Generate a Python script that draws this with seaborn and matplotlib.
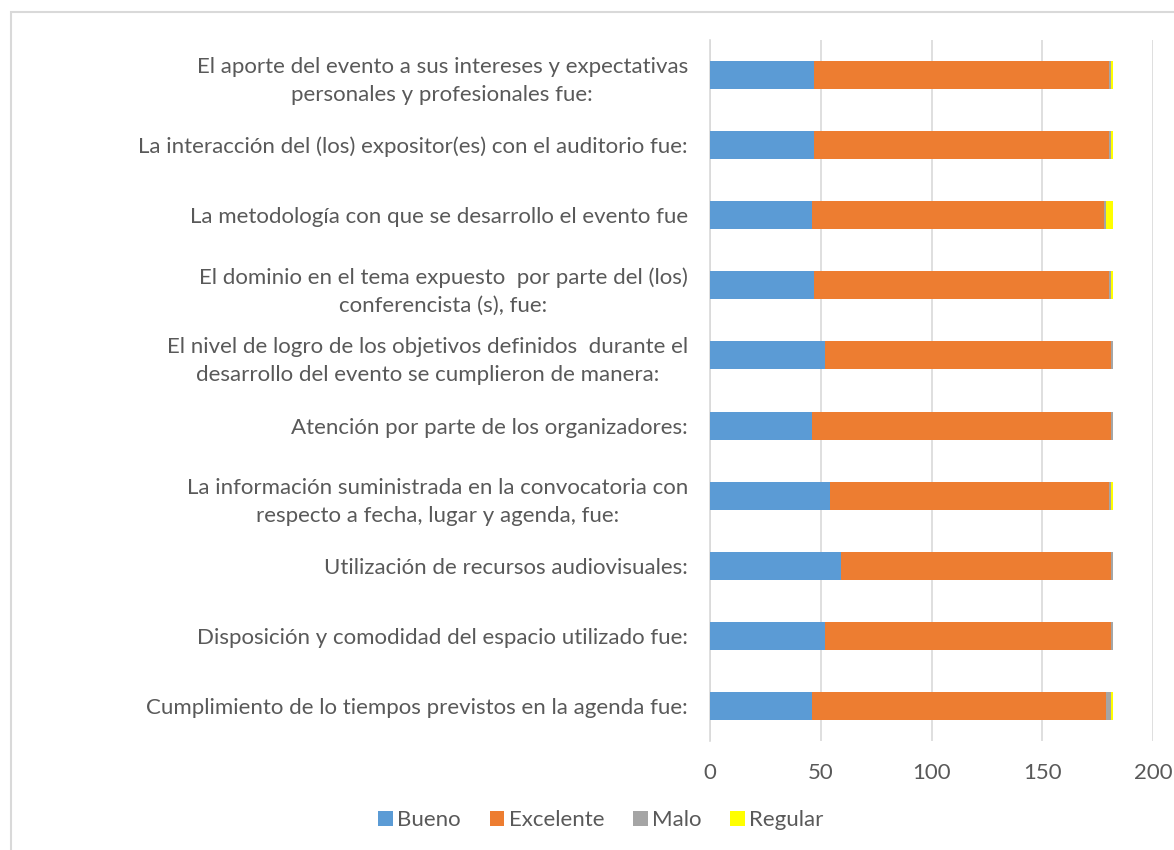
import numpy as np
import pandas as pd
import matplotlib
matplotlib.use('Agg')
import matplotlib.pyplot as plt
from matplotlib.patches import Rectangle, Patch
import seaborn as sns

preguntas = [
    'El aporte del evento a sus intereses y expectativas\npersonales y profesionales fue:',
    'La interacción del (los) expositor(es) con el auditorio fue:',
    'La metodología con que se desarrollo el evento fue',
    'El dominio en el tema expuesto  por parte del (los)\nconferencista (s), fue:',
    'El nivel de logro de los objetivos definidos  durante el\ndesarrollo del evento se cumplieron de manera:',
    'Atención por parte de los organizadores:',
    'La información suministrada en la convocatoria con\nrespecto a fecha, lugar y agenda, fue:',
    'Utilización de recursos audiovisuales:',
    'Disposición y comodidad del espacio utilizado fue:',
    'Cumplimiento de lo tiempos previstos en la agenda fue:',
]
bueno = [47, 47, 46, 47, 52, 46, 54, 59, 52, 46]
excelente = [133, 133, 132, 133, 129, 135, 126, 122, 129, 133]
malo = [1, 1, 1, 1, 1, 1, 1, 1, 1, 2]
regular = [1, 1, 3, 1, 0, 0, 1, 0, 0, 1]

series = ['Bueno', 'Excelente', 'Malo', 'Regular']
colores = ['#5B9BD5', '#ED7D31', '#A5A5A5', '#FFFF00']

df = pd.DataFrame({'pregunta': preguntas, 'Bueno': bueno, 'Excelente': excelente,
                   'Malo': malo, 'Regular': regular})
acum = df[series].cumsum(axis=1)
acum['pregunta'] = df['pregunta']

sns.set_style('white')
plt.rcParams['font.family'] = ['Lato', 'DejaVu Sans']
gris_texto = '#595959'

fig = plt.figure(figsize=(11.74, 8.5), dpi=100)
ax = fig.add_axes([710 / 1174, 1 - 741 / 850, 443 / 1174, 701 / 850])

# barras apiladas: se dibuja el acumulado de mayor a menor
for serie, color in reversed(list(zip(series, colores))):
    sns.barplot(data=acum, x=serie, y='pregunta', orient='h', color=color,
                width=0.4, saturation=1, linewidth=0, ax=ax, zorder=3)

ax.set_xlim(0, 200)
ax.set_xticks([0, 50, 100, 150, 200])
ax.set_ylim(9.5, -0.5)
ax.grid(axis='x', color='#D9D9D9', linewidth=1.2, zorder=0)
for s in ['top', 'right', 'bottom']:
    ax.spines[s].set_visible(False)
ax.spines['left'].set_color('#D9D9D9')
ax.spines['left'].set_linewidth(1.2)
ax.set_xlabel('')
ax.set_ylabel('')
ax.tick_params(axis='both', length=0, colors=gris_texto, labelsize=16)
ax.tick_params(axis='y', pad=16)
ax.tick_params(axis='x', pad=16)
for lbl in ax.get_yticklabels():
    lbl.set_horizontalalignment('right')
    lbl.set_multialignment('center')
    lbl.set_linespacing(1.5)

handles = [Patch(facecolor=c, edgecolor='none') for c in colores]
fig.legend(handles, series, loc='center', bbox_to_anchor=(601 / 1174, 1 - 820 / 850),
           ncol=4, frameon=False, fontsize=16, labelcolor=gris_texto,
           handlelength=0.65, handleheight=0.65, handletextpad=0.2, columnspacing=1.3)

fig.patches.append(Rectangle((11 / 1174, -0.05), 1.2, 1.05 - 12 / 850,
                             transform=fig.transFigure, fill=False,
                             edgecolor='#D9D9D9', linewidth=1.5))

fig.savefig('out.png', dpi=100)
